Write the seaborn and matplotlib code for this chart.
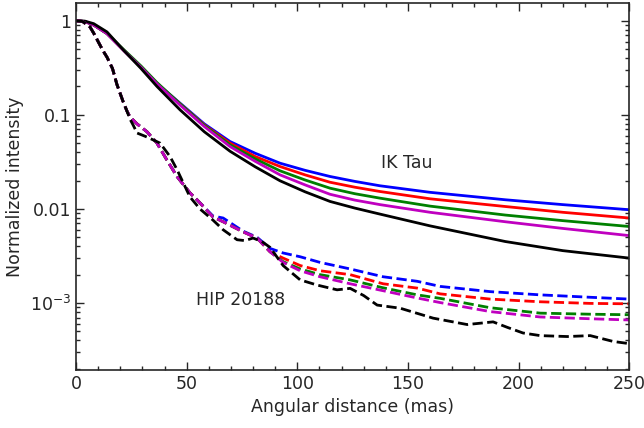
import numpy as np
import matplotlib
matplotlib.use("Agg")
import matplotlib.pyplot as plt
import seaborn as sns
from matplotlib.ticker import FixedLocator, LogLocator, NullFormatter, MultipleLocator

# IK Tau radial profiles (solid)
ikDist = [0, 4, 8, 14, 21.7, 29.4, 36.6, 47, 58, 69.6, 81, 92.2, 103.5, 114.8, 126, 137.4, 160, 194, 220, 250]
ikBlue = [1.0, 0.98, 0.90, 0.73, 0.48, 0.32, 0.215, 0.133, 0.080, 0.052, 0.039, 0.0306, 0.0257, 0.0221, 0.0196, 0.0176, 0.0150, 0.0125, 0.0111, 0.0098]
ikRed = [1.0, 0.98, 0.90, 0.73, 0.48, 0.32, 0.215, 0.131, 0.078, 0.050, 0.036, 0.0282, 0.0230, 0.0192, 0.0170, 0.0153, 0.0128, 0.0106, 0.0092, 0.0080]
ikGreen = [1.0, 0.98, 0.90, 0.73, 0.49, 0.33, 0.220, 0.131, 0.077, 0.048, 0.034, 0.0254, 0.0203, 0.0166, 0.0145, 0.0130, 0.0107, 0.0086, 0.0075, 0.0065]
ikMagenta = [1.0, 0.98, 0.90, 0.73, 0.48, 0.32, 0.213, 0.127, 0.075, 0.046, 0.032, 0.0230, 0.0180, 0.0143, 0.0124, 0.0111, 0.0092, 0.0073, 0.0062, 0.0052]
ikBlack = [1.0, 0.99, 0.93, 0.76, 0.48, 0.31, 0.200, 0.113, 0.066, 0.041, 0.028, 0.0199, 0.0152, 0.0120, 0.0102, 0.0088, 0.0066, 0.0045, 0.0036, 0.0030]

# HIP 20188 radial profiles (dashed)
hipDist = [0, 3, 6.3, 8.1, 10, 12.2, 14, 16.5, 18.5, 21.2, 23, 24.4, 27.6, 32.1, 36.6, 41.1, 45.7, 51.5, 54.7, 61.9, 66.5,
           75.5, 81.8, 87.7, 93.6, 101.3, 110.3, 123.9, 138.8, 154.2, 164.6, 187.2, 209.8, 232.4, 250]
hipBlue = [1.0, 0.98, 0.86, 0.73, 0.60, 0.48, 0.41, 0.31, 0.21, 0.14, 0.11, 0.095, 0.080, 0.066, 0.050, 0.033, 0.022, 0.0148, 0.0125, 0.0084, 0.0080,
           0.0058, 0.0050, 0.0038, 0.0034, 0.0031, 0.0027, 0.0023, 0.0019, 0.0017, 0.0015, 0.00132, 0.00122, 0.00115, 0.0011]
hipRed = [1.0, 0.98, 0.86, 0.73, 0.60, 0.48, 0.41, 0.31, 0.21, 0.14, 0.11, 0.095, 0.080, 0.066, 0.050, 0.033, 0.022, 0.0148, 0.0125, 0.0082, 0.0073,
          0.0057, 0.0049, 0.0035, 0.0030, 0.0025, 0.0022, 0.0020, 0.0016, 0.00144, 0.00125, 0.0011, 0.00103, 0.00099, 0.00098]
hipGreen = [1.0, 0.98, 0.86, 0.73, 0.60, 0.48, 0.41, 0.31, 0.21, 0.14, 0.11, 0.095, 0.080, 0.066, 0.050, 0.033, 0.022, 0.0148, 0.0125, 0.0082, 0.0073,
            0.0057, 0.0049, 0.0035, 0.00275, 0.0023, 0.0020, 0.00176, 0.00145, 0.00122, 0.00112, 0.00089, 0.00078, 0.00076, 0.00075]
hipMagenta = [1.0, 0.98, 0.86, 0.73, 0.60, 0.48, 0.41, 0.31, 0.21, 0.14, 0.11, 0.095, 0.080, 0.066, 0.050, 0.033, 0.022, 0.0148, 0.0125, 0.0082, 0.0073,
              0.0057, 0.0049, 0.0035, 0.0027, 0.0022, 0.0019, 0.0016, 0.00135, 0.00113, 0.00101, 0.00081, 0.00071, 0.00068, 0.00066]

hipBlackDist = [0, 3, 6.3, 8.1, 10, 12.2, 14, 16.5, 18.5, 21.2, 23, 24.4, 25.8, 27.6, 32.1, 38.0, 42.5, 45.7, 51.5, 56, 61.9, 66.5, 72.8,
                76.4, 80, 84, 87.7, 93.6, 101.3, 109, 118, 123.9, 130, 136.1, 146.5, 161.4, 176.8, 188.5, 195, 202, 209.8,
                222, 232.4, 242.8, 250]
hipBlack = [1.0, 0.98, 0.86, 0.73, 0.60, 0.48, 0.41, 0.31, 0.21, 0.14, 0.11, 0.09, 0.078, 0.064, 0.058, 0.050, 0.036, 0.026, 0.0134, 0.0100, 0.0076, 0.0060, 0.0047,
            0.0046, 0.0049, 0.0045, 0.0039, 0.0025, 0.00176, 0.00155, 0.00138, 0.00143, 0.00120, 0.00095, 0.00088, 0.00069, 0.00059, 0.00063, 0.00055, 0.00048, 0.00045,
            0.00044, 0.00045, 0.00039, 0.00037]

seriesColors = ["#0000ff", "#ff0000", "#008000", "#bf00bf", "#000000"]

sns.set_style("ticks")
plt.rcParams["font.family"] = ["DejaVu Sans"]
plt.rcParams["mathtext.fontset"] = "dejavusans"

fig = plt.figure(figsize = (6.44, 4.28), dpi = 100)
ax = fig.add_axes([0.118, 0.1355, 0.859, 0.858])

lineWidth = 2.0
for yVals, col in zip([ikBlue, ikRed, ikGreen, ikMagenta, ikBlack], seriesColors) :
    sns.lineplot(x = ikDist, y = yVals, color = col, linewidth = lineWidth, ax = ax)

for yVals, col in zip([hipBlue, hipRed, hipGreen, hipMagenta], seriesColors[:4]) :
    sns.lineplot(x = hipDist, y = yVals, color = col, linewidth = lineWidth, linestyle = "--", ax = ax)
sns.lineplot(x = hipBlackDist, y = hipBlack, color = seriesColors[4], linewidth = lineWidth, linestyle = "--", ax = ax)

ax.set_yscale("log")
ax.set_xlim(0, 250)
ax.set_ylim(1.94e-4, 1.55)

ax.yaxis.set_major_locator(FixedLocator([1e-3, 1e-2, 1e-1, 1]))
ax.set_yticklabels([r"$10^{-3}$", "0.01", "0.1", "1"])
ax.yaxis.set_minor_locator(LogLocator(base = 10, subs = np.arange(2, 10)))
ax.yaxis.set_minor_formatter(NullFormatter())
ax.xaxis.set_major_locator(MultipleLocator(50))
ax.xaxis.set_minor_locator(MultipleLocator(10))

ax.tick_params(which = "both", direction = "in", top = True, right = True, labelsize = 12.5, width = 1.0)
ax.tick_params(which = "major", length = 6)
ax.tick_params(which = "minor", length = 3)
for spine in ax.spines.values() :
    spine.set_linewidth(1.2)

ax.set_xlabel("Angular distance (mas)", fontsize = 12.5)
ax.set_ylabel("Normalized intensity", fontsize = 12.5)

ax.text(149.6, 0.031, "IK Tau", fontsize = 12.5, ha = "center", va = "center")
ax.text(74.6, 0.00108, "HIP 20188", fontsize = 12.5, ha = "center", va = "center")

fig.savefig("out.png", dpi = 100)
